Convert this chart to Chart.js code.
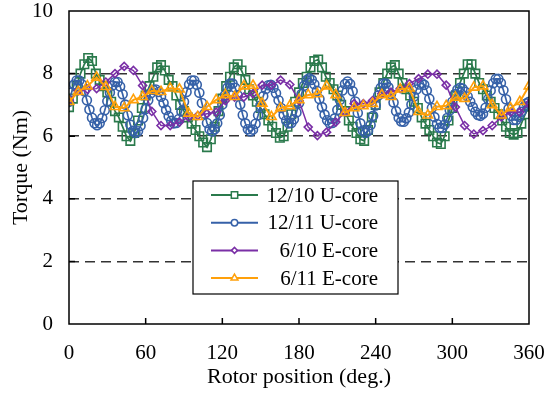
<!DOCTYPE html>
<html>
<head>
<meta charset="utf-8">
<script src="https://cdn.jsdelivr.net/npm/chart.js@4/dist/chart.umd.min.js"></script>
<style>
  html, body { margin: 0; padding: 0; background: #fff; }
  #wrap { width: 550px; height: 396px; }
</style>
</head>
<body>
<div id="wrap"><canvas id="torqueChart" width="550" height="396"></canvas></div>
<script>
// x steps (deg) for each series
const uc10Step = 3;
const uc11Step = 2;
const ec10Step = 7.2;
const ec11Step = 7.2;

// 12/10 U-core, every 3 deg
const uc10 = [6.93, 7.2, 7.6, 8.0, 8.3, 8.5, 8.4, 8.0, 7.8, 7.6, 7.4, 7.1, 6.8, 6.6, 6.3, 6.0, 5.85,
  6.1, 6.5, 6.9, 7.3, 7.6, 7.9, 8.2, 8.27, 8.1, 7.8, 7.6, 7.3, 7.0, 6.8, 6.6, 6.4, 6.2, 6.0, 5.8, 5.65,
  5.9, 6.3, 6.8, 7.2, 7.6, 7.9, 8.2, 8.3, 8.1, 7.8, 7.5, 7.3, 7.1, 6.9, 6.7, 6.5, 6.3, 6.1, 5.95,
  6.0, 6.3, 6.7, 7.1, 7.4, 7.7, 7.9, 8.2, 8.4, 8.45, 8.2, 7.9, 7.7, 7.5, 7.3, 7.0, 6.8, 6.5, 6.3, 6.1, 5.9, 5.85,
  6.2, 6.6, 7.0, 7.4, 7.7, 8.0, 8.2, 8.27, 8.0, 7.7, 7.5, 7.3, 7.1, 6.9, 6.6, 6.4, 6.2, 6.0, 5.8, 5.75,
  6.0, 6.5, 6.9, 7.3, 7.7, 8.0, 8.3, 8.3, 8.0, 7.7, 7.5, 7.3, 7.1, 6.9, 6.7, 6.5, 6.3, 6.1, 6.05,
  6.1, 6.4, 6.7, 6.95];

// 12/11 U-core, every 2 deg
const uc11 = [7.1, 7.4, 7.65, 7.78, 7.78, 7.66, 7.44, 7.15, 6.85, 6.59, 6.41, 6.35, 6.41, 6.58, 6.83, 7.12,
  7.40, 7.62, 7.73, 7.73, 7.59, 7.34, 7.01, 6.67, 6.37, 6.17, 6.1, 6.16, 6.33, 6.58, 6.87, 7.15, 7.37,
  7.48, 7.49, 7.41, 7.26, 7.06, 6.84, 6.64, 6.49, 6.41, 6.42, 6.55, 6.79, 7.1, 7.41, 7.65, 7.78, 7.78,
  7.64, 7.39, 7.06, 6.72, 6.42, 6.22, 6.15, 6.22, 6.41, 6.68, 7.01, 7.31, 7.55, 7.68, 7.68, 7.55, 7.31,
  7.01, 6.68, 6.41, 6.22, 6.15, 6.21, 6.4, 6.67, 6.98, 7.28, 7.51, 7.63, 7.64, 7.55, 7.37, 7.15, 6.9,
  6.68, 6.5, 6.41, 6.42, 6.54, 6.76, 7.05, 7.35, 7.61, 7.79, 7.85, 7.8, 7.66, 7.45, 7.19, 6.93, 6.69,
  6.51, 6.41, 6.42, 6.57, 6.84, 7.16, 7.46, 7.67, 7.75, 7.67, 7.44, 7.11, 6.74, 6.41, 6.18, 6.1, 6.17,
  6.36, 6.65, 6.98, 7.3, 7.55, 7.68, 7.68, 7.56, 7.35, 7.08, 6.8, 6.59, 6.47, 6.46, 6.57, 6.76, 7.01,
  7.27, 7.49, 7.65, 7.7, 7.64, 7.46, 7.2, 6.9, 6.61, 6.39, 6.27, 6.26, 6.37, 6.58, 6.83, 7.1, 7.34,
  7.49, 7.55, 7.52, 7.42, 7.27, 7.1, 6.93, 6.78, 6.68, 6.65, 6.72, 6.91, 7.18, 7.46, 7.69, 7.83, 7.83,
  7.7, 7.47, 7.18, 6.88, 6.65, 6.52, 6.52, 6.62, 6.78, 6.93, 7.05, 7.1];

// 6/10 E-core, every 7.2 deg
const ec10 = [7.15, 7.45, 7.5, 7.52, 7.73, 8.0, 8.23, 8.1, 7.62, 6.79, 6.34, 6.34, 6.45, 6.61, 6.66,
  6.72, 6.77, 7.14, 7.25, 7.25, 7.36, 7.63, 7.63, 7.79, 7.65, 7.14, 6.29, 6.02, 6.13, 6.45, 6.77, 7.04,
  7.04, 7.14, 7.36, 7.41, 7.52, 7.68, 7.84, 7.98, 7.98, 7.63, 6.93, 6.34, 6.07, 6.18, 6.34, 6.61, 6.77,
  6.77, 7.04];

// 6/11 E-core, every 7.2 deg
const ec11 = [7.1, 7.42, 7.6, 7.88, 7.58, 6.94, 6.9, 7.16, 7.26, 7.45, 7.42, 7.53, 7.5, 6.73, 6.62,
  6.94, 7.16, 7.32, 7.26, 7.6, 7.62, 7.05, 6.62, 6.9, 6.97, 7.16, 7.32, 7.35, 7.6, 7.32, 6.75, 6.9,
  6.97, 7.04, 7.32, 7.26, 7.5, 7.53, 6.78, 6.67, 6.94, 6.97, 7.24, 7.2, 7.56, 7.6, 7.0, 6.67, 6.9,
  7.1, 7.6];

const seriesNames = ["12/10 U-core", "12/11 U-core", "6/10 E-core", "6/11 E-core"];
const xTicks = [0, 60, 120, 180, 240, 300, 360];
const yTicks = [0, 2, 4, 6, 8, 10];

function toPoints(vals, step) {
    return vals.map((v, i) => ({ x: Math.round(i * step * 10) / 10, y: v }));
}

const FONT = "'Liberation Serif', 'Times New Roman', serif";

const styles = [
    { color: "#2a7a4c", point: "rect", radius: 6, width: 1.7, legendR: 4.5 },
    { color: "#3661a8", point: "circle", radius: 4.5, width: 1.7, legendR: 3.2 },
    { color: "#7a2fa6", point: "rectRot", radius: 4, width: 1.5, legendR: 3 },
    { color: "#ffa00a", point: "triangle", radius: 5.5, width: 2, legendR: 4 }
];

const allData = [toPoints(uc10, uc10Step), toPoints(uc11, uc11Step), toPoints(ec10, ec10Step), toPoints(ec11, ec11Step)];

// frame, inward ticks and the boxed legend
const framePlugin = {
    id: "frame",
    afterDatasetsDraw(chart) {
        const ctx = chart.ctx;
        const a = chart.chartArea;
        const xs = chart.scales.x, ys = chart.scales.y;
        ctx.save();
        ctx.strokeStyle = "#000";
        ctx.lineWidth = 1.5;
        ctx.strokeRect(a.left, a.top, a.right - a.left, a.bottom - a.top);
        ctx.beginPath();
        xTicks.slice(1, -1).forEach(t => {
            const px = xs.getPixelForValue(t);
            ctx.moveTo(px, a.bottom);
            ctx.lineTo(px, a.bottom - 6);
        });
        yTicks.slice(1, -1).forEach(t => {
            const py = ys.getPixelForValue(t);
            ctx.moveTo(a.left, py);
            ctx.lineTo(a.left + 6, py);
        });
        ctx.stroke();

        // legend box
        const bx = 193, by = 181, bw = 205, bh = 113;
        ctx.fillStyle = "#fff";
        ctx.fillRect(bx, by, bw, bh);
        ctx.lineWidth = 1.2;
        ctx.strokeRect(bx, by, bw, bh);
        ctx.font = "21px " + FONT;
        ctx.textBaseline = "middle";
        ctx.textAlign = "right";
        seriesNames.forEach((name, i) => {
            const s = styles[i];
            const y = by + 14 + i * 27.7;
            ctx.strokeStyle = s.color;
            ctx.lineWidth = 2;
            ctx.beginPath();
            ctx.moveTo(211, y);
            ctx.lineTo(258, y);
            ctx.stroke();
            ctx.fillStyle = "#fff";
            ctx.lineWidth = 1.5;
            Chart.helpers.drawPoint(ctx, { pointStyle: s.point, radius: s.legendR, borderWidth: 1.5, rotation: 0 }, 234.5, y);
            ctx.fillStyle = "#000";
            ctx.fillText(name, 378, y + 1);
        });
        ctx.restore();
    }
};

new Chart(document.getElementById("torqueChart"), {
    type: "line",
    data: {
        datasets: allData.map((d, i) => ({
            label: seriesNames[i],
            data: d,
            borderColor: styles[i].color,
            backgroundColor: "rgba(255,255,255,0)",
            borderWidth: styles[i].width,
            pointStyle: styles[i].point,
            pointRadius: styles[i].radius,
            pointBorderWidth: 1.6,
            pointBorderColor: styles[i].color,
            pointBackgroundColor: "rgba(255,255,255,0)",
            tension: 0,
            order: 4 - i
        }))
    },
    options: {
        responsive: false,
        animation: false,
        devicePixelRatio: 1,
        layout: { padding: { top: 11, right: 21, left: 0, bottom: 0 } },
        plugins: {
            legend: { display: false },
            tooltip: { enabled: false }
        },
        scales: {
            x: {
                type: "linear",
                min: 0,
                max: 360,
                afterFit: s => { s.height = 72; s.paddingLeft = 0; s.paddingRight = 0; },
                afterBuildTicks: s => { s.ticks = xTicks.map(v => ({ value: v })); },
                grid: { display: false },
                border: { display: false },
                ticks: { color: "#000", font: { family: FONT, size: 21 }, padding: 9, maxRotation: 0 },
                title: { display: true, text: "Rotor position (deg.)", color: "#000", font: { family: FONT, size: 22 }, padding: { top: 0, bottom: 6 } }
            },
            y: {
                min: 0,
                max: 10,
                afterFit: s => { s.width = 69; s.paddingTop = 0; s.paddingBottom = 0; },
                afterBuildTicks: s => { s.ticks = yTicks.map(v => ({ value: v })); },
                grid: {
                    drawTicks: false,
                    color: c => (c.tick.value > 0 && c.tick.value < 10) ? "#333" : "rgba(0,0,0,0)",
                    lineWidth: 1.5
                },
                border: { display: false, dash: [10, 6] },
                ticks: { color: "#000", font: { family: FONT, size: 21 }, padding: 16 },
                title: { display: true, text: "Torque (Nm)", color: "#000", font: { family: FONT, size: 22 }, padding: { top: 8, bottom: 0 } }
            }
        }
    },
    plugins: [framePlugin]
});
</script>
</body>
</html>
